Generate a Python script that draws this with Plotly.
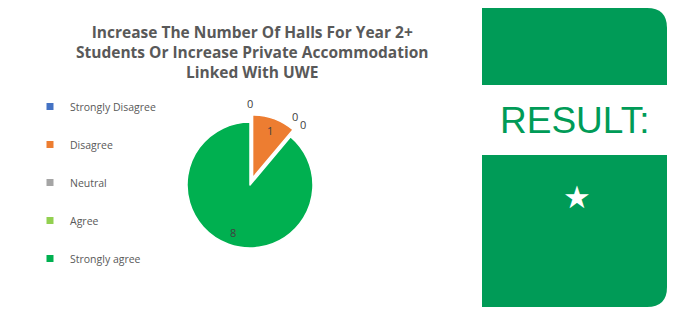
import math
import plotly.graph_objects as go

categories = ["Strongly Disagree", "Disagree", "Neutral", "Agree", "Strongly agree"]
values = [0, 1, 0, 0, 8]
colors = ["#4472C4", "#ED7D31", "#A5A5A5", "#92D050", "#00B050"]
title_lines = ["Increase The Number Of Halls For Year 2+",
               "Students Or Increase Private Accommodation",
               "Linked With UWE"]
result_text = "RESULT:"
rating_text = "★"

W, H = 684, 318
CX, CY, R = 250, 185, 63
PULL = 0.12
half = R * (1 + PULL)
pulls = [PULL if 0 < v < max(values) else 0 for v in values]

fig = go.Figure()

fig.add_trace(go.Pie(
    labels=categories, values=values, sort=False, direction="clockwise",
    rotation=0, marker=dict(colors=colors, line=dict(color="white", width=1.5)),
    pull=pulls, textinfo="none",
    showlegend=False, hoverinfo="label+value",
    domain=dict(x=[(CX - half) / W, (CX + half) / W],
                y=[1 - (CY + half) / H, 1 - (CY - half) / H]),
))

for c, col in zip(categories, colors):
    fig.add_trace(go.Scatter(
        x=[None], y=[None], mode="markers", name=c, legendgroup=c,
        marker=dict(symbol="square", size=7, color=col), xaxis="x", yaxis="y"))

# value labels, placed from the data's cumulative angles
total = sum(values)
lab_font = dict(color="#404040", size=11, family="Open Sans")
cum = 0
zero_idx = 0
ann = []
for v, p in zip(values, pulls):
    if v == 0:
        ang = cum / total * 2 * math.pi + (-0.12 if zero_idx == 1 else 0.0)
        rr = R * 1.3
        ann.append(dict(x=CX + rr * math.sin(ang),
                        y=CY - rr * math.cos(ang) + (2 if zero_idx == 2 else 0),
                        xref="x", yref="y", text=str(v), showarrow=False, font=lab_font))
        zero_idx += 1
    else:
        ang = (cum + v / 2) / total * 2 * math.pi
        rr = R * (0.8 + p)
        ann.append(dict(x=CX + rr * math.sin(ang), y=CY - rr * math.cos(ang),
                        xref="x", yref="y", text=str(v), showarrow=False, font=lab_font))
    cum += v

ann.append(dict(x=252, y=52, xref="x", yref="y", showarrow=False,
                text="<br>".join(f"<b>{t}</b>" for t in title_lines),
                font=dict(color="#595959", size=15.5, family="Open Sans")))
ann.append(dict(x=574, y=120, xref="x", yref="y", showarrow=False, text=result_text,
                font=dict(color="#009B57", size=37, family="Liberation Sans")))
ann.append(dict(x=577, y=197, xref="x", yref="y", showarrow=False, text=rating_text,
                font=dict(color="white", size=31, family="DejaVu Sans")))

shapes = [
    dict(type="path", xref="x", yref="y", fillcolor="#009B57", line=dict(width=0),
         path="M482,8 L647,8 Q667,8 667,28 L667,85 L482,85 Z", layer="below"),
    dict(type="path", xref="x", yref="y", fillcolor="#009B57", line=dict(width=0),
         path="M482,155 L667,155 L667,287 Q667,307 647,307 L482,307 Z", layer="below"),
]

fig.update_layout(
    width=W, height=H, margin=dict(l=0, r=0, t=0, b=0),
    paper_bgcolor="white", plot_bgcolor="white",
    xaxis=dict(range=[0, W], visible=False, fixedrange=True),
    yaxis=dict(range=[H, 0], visible=False, fixedrange=True),
    showlegend=True,
    legend=dict(x=30 / W, y=1 - 92 / H, xanchor="left", yanchor="top",
                font=dict(color="#595959", size=10.5, family="Open Sans"),
                tracegroupgap=19, bgcolor="rgba(0,0,0,0)"),
    annotations=ann, shapes=shapes,
)

fig.write_html("out.html")
